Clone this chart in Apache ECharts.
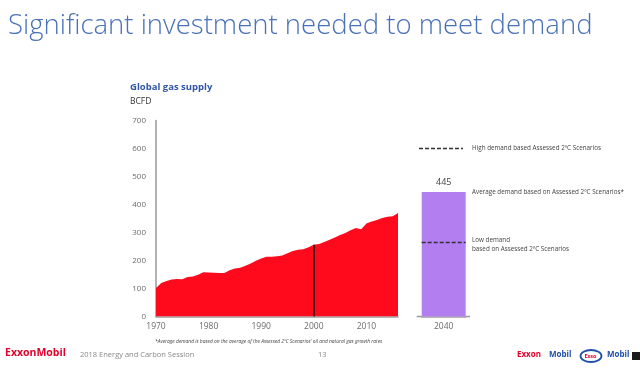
<!DOCTYPE html>
<html><head><meta charset="utf-8">
<script src="https://cdn.jsdelivr.net/npm/echarts@6/dist/echarts.min.js"></script>
<style>html,body{margin:0;padding:0;background:#fff}#c{width:640px;height:384px}</style>
</head><body><div id="c"></div>
<script>
const years = [1970,1971,1972,1973,1974,1975,1976,1977,1978,1979,1980,1981,1982,1983,1984,1985,1986,1987,1988,1989,1990,1991,1992,1993,1994,1995,1996,1997,1998,1999,2000,2001,2002,2003,2004,2005,2006,2007,2008,2009,2010,2011,2012,2013,2014,2015,2016];
const supply = [102,120,127,132,134,133,141,143,149,158,157,156,155,155,165,171,174,181,189,199,207,213,213,215,218,226,234,238,240,247,256,259,266,274,282,291,298,308,316,312,332,339,345,352,356,358,370];
const yTicks = [0,100,200,300,400,500,600,700];
const demandCategory = ['2040'];
const avgDemand = [445];
const lowDemand = 265;
const markYear = 2000;

const chart = echarts.init(document.getElementById('c'));
const grey = '#6b6b6b';
const axisGrey = '#9a9a9a';
const F = '"Open Sans", "Noto Sans", sans-serif';
const last = supply.length - 1;

chart.setOption({
  animation: false,
  grid: [
    {left: 156, top: 120.5, width: 242, height: 196},
    {left: 421.7, top: 120.5, width: 44, height: 196}
  ],
  xAxis: [
    {gridIndex: 0, type: 'value', min: years[0], max: years[last], interval: 10,
     axisLine: {lineStyle: {color: axisGrey, width: 1.5}}, axisTick: {show: false}, splitLine: {show: false},
     axisLabel: {color: grey, fontSize: 8.5, fontFamily: F, margin: 6, showMaxLabel: false, formatter: v => String(v)}},
    {gridIndex: 1, type: 'category', data: demandCategory,
     axisLine: {lineStyle: {color: axisGrey, width: 1.5}}, axisTick: {show: false},
     axisLabel: {color: grey, fontSize: 8.5, fontFamily: F, margin: 6}}
  ],
  yAxis: [
    {gridIndex: 0, type: 'value', min: yTicks[0], max: yTicks[yTicks.length-1], interval: 100,
     axisLine: {show: true, lineStyle: {color: axisGrey, width: 1.5}}, axisTick: {show: false}, splitLine: {show: false},
     axisLabel: {color: grey, fontSize: 8, fontFamily: F, margin: 10}},
    {gridIndex: 1, type: 'value', min: yTicks[0], max: yTicks[yTicks.length-1], show: false, splitLine: {show: false}}
  ],
  series: [
    {type: 'line', xAxisIndex: 0, yAxisIndex: 0, symbol: 'none',
     data: years.map((y, i) => i === last ? {value: [y, supply[i]], label: {show: true, position: 'top', distance: 5, color: grey, fontSize: 8.5, fontFamily: F, formatter: String(supply[i])}} : [y, supply[i]]),
     lineStyle: {width: 0}, areaStyle: {color: '#fe0a1c', opacity: 1},
     markLine: {silent: true, symbol: 'none', label: {show: false},
       lineStyle: {color: '#111', type: 'solid', width: 1.5},
       data: [[{coord: [markYear, 0]}, {coord: [markYear, supply[years.indexOf(markYear)]]}]]}},
    {type: 'bar', xAxisIndex: 1, yAxisIndex: 1, barWidth: '100%', data: avgDemand,
     itemStyle: {color: '#b37ff0'},
     label: {show: true, position: 'top', distance: 5, color: '#444', fontSize: 9, fontFamily: F},
     markLine: {silent: true, symbol: 'none', label: {show: false},
       lineStyle: {color: '#333', type: [4, 2], width: 1.3},
       data: [{yAxis: lowDemand}]}}
  ],
  graphic: [
    {type: 'text', left: 8, top: 12, style: {text: 'Significant investment needed to meet demand', fill: '#4a72b8', font: '300 27.5px ' + F}},
    {type: 'text', left: 130, top: 82, style: {text: 'Global gas supply', fill: '#2f55a4', font: 'bold 9.5px ' + F}},
    {type: 'text', left: 130, top: 97, style: {text: 'BCFD', fill: '#333', font: '8.5px ' + F}},
    {type: 'line', shape: {x1: 416.7, y1: 316.5, x2: 421.7, y2: 316.5}, style: {stroke: axisGrey, lineWidth: 1.5}},
    {type: 'line', shape: {x1: 465.7, y1: 316.5, x2: 470, y2: 316.5}, style: {stroke: axisGrey, lineWidth: 1.5}},
    {type: 'line', shape: {x1: 419, y1: 148.5, x2: 463, y2: 148.5}, style: {stroke: '#333', lineWidth: 1.3, lineDash: [4, 2]}},
    {type: 'text', left: 472, top: 145, style: {text: 'High demand based Assessed 2ºC Scenarios', fill: '#444', font: '6.3px ' + F}},
    {type: 'text', left: 472, top: 189, style: {text: 'Average demand based on Assessed 2ºC Scenarios*', fill: '#444', font: '6.3px ' + F}},
    {type: 'text', left: 472, top: 236, style: {text: 'Low demand\nbased on Assessed 2ºC Scenarios', fill: '#444', font: '6.3px ' + F, lineHeight: 9}},
    {type: 'text', left: 155, top: 339, style: {text: '*Average demand is based on the average of the Assessed 2ºC Scenarios\' oil and natural gas growth rates', fill: '#444', font: 'italic 4.9px ' + F}},
    {type: 'text', left: 5, top: 348, style: {text: 'ExxonMobil', fill: '#e4002b', font: 'bold 10.5px ' + F}},
    {type: 'text', left: 80, top: 351, style: {text: '2018 Energy and Carbon Session', fill: '#888', font: '7.5px ' + F}},
    {type: 'text', left: 318, top: 351, style: {text: '13', fill: '#888', font: '7.5px ' + F}},
    {type: 'text', left: 517, top: 351, style: {text: 'Exxon', fill: '#e4002b', font: 'bold 8px ' + F}},
    {type: 'text', left: 549, top: 351, style: {text: 'Mobil', fill: '#1f4fa8', font: 'bold 8px ' + F}},
    {type: 'ellipse', shape: {cx: 591, cy: 356, rx: 10.5, ry: 6}, style: {fill: '#fff', stroke: '#1f4fa8', lineWidth: 1.8}},
    {type: 'text', left: 584.5, top: 353, style: {text: 'Esso', fill: '#e4002b', font: 'bold 5.5px ' + F}},
    {type: 'text', left: 607, top: 351, style: {text: 'Mobil', fill: '#1f4fa8', font: 'bold 8px ' + F}},
    {type: 'rect', shape: {x: 632, y: 352, width: 8, height: 8}, style: {fill: '#1a1a1a'}}
  ]
});
</script></body></html>
